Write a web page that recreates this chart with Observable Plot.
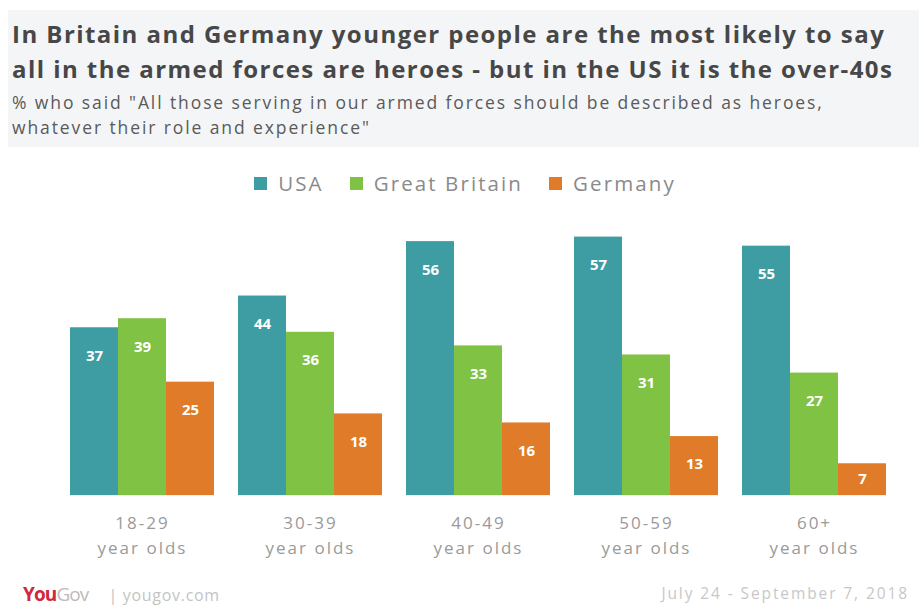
<!DOCTYPE html>
<html><head><meta charset="utf-8">
<script src="https://cdn.jsdelivr.net/npm/d3@7"></script>
<script src="https://cdn.jsdelivr.net/npm/@observablehq/plot@0.6"></script>
<style>
body{margin:0;background:#fff;font-family:"Open Sans",sans-serif;width:919px;height:607px;overflow:hidden;position:relative}
#head{position:absolute;left:8px;top:10px;width:911px;height:137px;background:#f4f5f7}
#title{position:absolute;left:4px;top:6px;font-weight:700;font-size:24px;line-height:35px;color:#474747;letter-spacing:1.45px;white-space:nowrap}
#sub{position:absolute;left:4px;top:80px;font-size:17.5px;line-height:25px;color:#5a5a5a;letter-spacing:1.9px;white-space:nowrap}
#legend{position:absolute;top:169px;left:0;width:930px;text-align:center;font-size:20.5px;color:#8a8a8a;letter-spacing:2.1px}
#legend span.it{display:inline-block;margin:0 13px}
#legend i{display:inline-block;width:13px;height:13px;margin-right:11px;vertical-align:1px}
#chart{position:absolute;left:0;top:205px}
#chart g[aria-label="fx-axis tick label"] text{letter-spacing:2px}
#foot1{position:absolute;left:23px;top:581px;font-size:16px;color:#c4c4c4;letter-spacing:0.7px;white-space:nowrap}
#foot1 .logo{font-size:19px;letter-spacing:-0.9px;margin-right:20px}
#foot2{position:absolute;right:10px;top:582px;font-size:15.5px;color:#c8c8c8;letter-spacing:1.9px}
</style></head><body>
<div id="head">
<div id="title">In Britain and Germany younger people are the most likely to say<br>all in the armed forces are heroes - but in the US it is the over-40s</div>
<div id="sub">% who said "All those serving in our armed forces should be described as heroes,<br>whatever their role and experience"</div>
</div>
<div id="legend"></div>
<div id="chart"></div>
<div id="foot1"><span class="logo"><span style="color:#d2263a;font-weight:700">You</span><span style="color:#c2b8b8">Gov</span></span>| yougov.com</div>
<div id="foot2">July 24 - September 7, 2018</div>
<script>
const ages = ["18-29", "30-39", "40-49", "50-59", "60+"];
const countries = ["USA", "Great Britain", "Germany"];
const colors = ["#3e9ca3", "#80c244", "#e07b29"];
const usa = [37, 44, 56, 57, 55];
const gb = [39, 36, 33, 31, 27];
const germany = [25, 18, 16, 13, 7];

const series = [usa, gb, germany];
const data = [];
ages.forEach((a, i) => countries.forEach((c, j) => data.push({age: a, country: c, value: series[j][i]})));

document.getElementById("legend").innerHTML = countries.map((c, j) =>
  `<span class="it"><i style="background:${colors[j]}"></i>${c}</span>`).join("");

const chart = Plot.plot({
  width: 919, height: 360,
  marginLeft: 70, marginRight: 33, marginTop: 18, marginBottom: 70,
  style: {fontFamily: "Open Sans, sans-serif"},
  fx: {domain: ages, paddingInner: 0.143, paddingOuter: 0, label: null},
  x: {domain: countries, padding: 0, axis: null},
  y: {domain: [0, 60], axis: null},
  color: {domain: countries, range: colors},
  marks: [
    Plot.axisFx({anchor: "bottom", tickSize: 0, tickPadding: 15, fontSize: 17, color: "#9a9a9a", label: null,
      tickFormat: d => d + "\nyear olds", lineHeight: 1.5}),
    Plot.ruleY([0], {stroke: "#f0f0f0"}),
    Plot.barY(data, {fx: "age", x: "country", y: "value", fill: "country"}),
    Plot.text(data, {fx: "age", x: "country", y: d => Math.max(d.value - 6.2, d.value / 2), text: d => String(d.value),
      fill: "white", fontWeight: 700, fontSize: 15})
  ]
});
document.getElementById("chart").appendChild(chart);
</script>
</body></html>
